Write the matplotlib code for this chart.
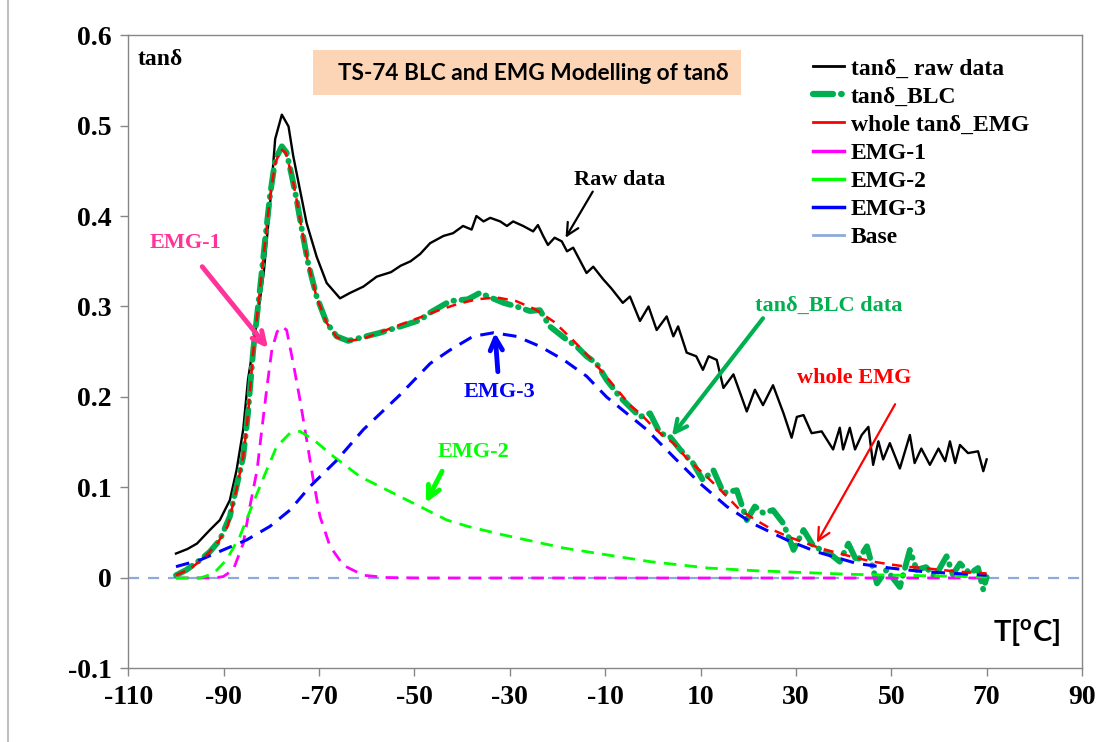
import matplotlib
matplotlib.use("Agg")
import matplotlib.pyplot as plt
from matplotlib.lines import Line2D
from matplotlib.patches import Rectangle

plt.rcParams["font.family"] = ["Liberation Serif", "DejaVu Serif"]
plt.rcParams["axes.unicode_minus"] = False
plt.rcParams["mathtext.fontset"] = "custom"
plt.rcParams["mathtext.rm"] = "Lato:bold"
plt.rcParams["mathtext.bf"] = "Lato:bold"

# raw tan(delta) curve
raw_T = [-100, -97.6, -95.6, -92.9, -90.8, -88.7, -87.3, -85.9, -84.9, -83.4,
         -81.6, -80.3, -79.2, -77.8, -76.4, -75.4, -74.0, -72.6, -70.5, -68.4,
         -65.6, -63.5, -60.7, -57.9, -54.9, -52.9, -50.8, -48.8, -46.7, -43.9,
         -41.9, -39.8, -38.0, -37.0, -35.5, -34.1, -32.0, -30.6, -29.3, -27.2,
         -25.1, -24.1, -23.0, -22.0, -20.6, -19.1, -18.0, -16.7, -14.6, -13.9,
         -12.5, -10.4, -8.7, -6.3, -4.8, -2.7, -0.9, 0.8, 2.9, 4.3,
         5.3, 7.1, 9.1, 10.5, 11.7, 13.4, 14.8, 16.9, 19.7, 21.4,
         23.1, 25.2, 27.4, 29.1, 30.2, 31.6, 33.3, 35.4, 37.8, 39.2,
         39.9, 41.3, 42.4, 43.8, 45.2, 46.2, 47.3, 48.3, 49.7, 51.8,
         53.9, 54.9, 56.3, 58.1, 59.9, 61.3, 62.3, 63.4, 64.4, 66.1,
         68.2, 69.3, 70.0]
raw_v = [0.027, 0.032, 0.038, 0.053, 0.064, 0.086, 0.119, 0.164, 0.219, 0.270,
         0.337, 0.411, 0.485, 0.512, 0.499, 0.466, 0.429, 0.392, 0.355, 0.326,
         0.309, 0.315, 0.322, 0.333, 0.338, 0.345, 0.350, 0.358, 0.370, 0.378,
         0.381, 0.389, 0.385, 0.400, 0.394, 0.398, 0.394, 0.389, 0.394, 0.389,
         0.383, 0.390, 0.378, 0.368, 0.376, 0.372, 0.361, 0.365, 0.344, 0.337,
         0.344, 0.330, 0.320, 0.304, 0.311, 0.284, 0.300, 0.274, 0.289, 0.267,
         0.278, 0.249, 0.245, 0.230, 0.245, 0.241, 0.210, 0.225, 0.184, 0.208,
         0.191, 0.213, 0.182, 0.155, 0.178, 0.180, 0.160, 0.162, 0.142, 0.166,
         0.142, 0.166, 0.142, 0.158, 0.167, 0.125, 0.151, 0.131, 0.149, 0.121,
         0.158, 0.127, 0.143, 0.125, 0.143, 0.129, 0.151, 0.127, 0.147, 0.138,
         0.140, 0.118, 0.131]

# baseline-corrected curve
blc_T = [-100, -97.8, -94.9, -92.9, -90.8, -88.7, -87.3, -85.9, -84.9, -83.8,
         -82.4, -81.3, -80.3, -79.2, -77.8, -76.8, -75.7, -74.7, -73.6, -72.3,
         -70.5, -68.4, -66.3, -63.9, -60.9, -57.2, -52.9, -48.8, -46.8, -42.5,
         -38.8, -37.7, -36.3, -34.5, -31.3, -28.6, -25.8, -23.7, -21.6, -18.0,
         -16.0, -13.9, -11.8, -9.7, -6.9, -2.7, -0.6, 1.5, 3.6, 5.7,
         8.4, 10.5, 12.7, 14.8, 17.6, 19.7, 21.4, 23.1, 25.2, 27.4,
         29.5, 31.6, 33.7, 37.1, 39.2, 41.0, 42.8, 44.9, 47.0, 49.0,
         51.8, 53.9, 55.3, 57.3, 59.1, 61.6, 62.9, 64.4, 66.5, 68.2,
         69.3, 70.0]
blc_v = [0.003, 0.009, 0.020, 0.029, 0.042, 0.068, 0.101, 0.134, 0.182, 0.252,
         0.319, 0.374, 0.422, 0.462, 0.477, 0.470, 0.444, 0.418, 0.385, 0.348,
         0.311, 0.282, 0.267, 0.262, 0.266, 0.271, 0.278, 0.285, 0.293, 0.306,
         0.308, 0.311, 0.315, 0.311, 0.304, 0.300, 0.295, 0.296, 0.278, 0.263,
         0.256, 0.245, 0.237, 0.219, 0.200, 0.178, 0.182, 0.160, 0.156, 0.142,
         0.127, 0.108, 0.119, 0.094, 0.097, 0.064, 0.079, 0.072, 0.075, 0.060,
         0.031, 0.053, 0.035, 0.027, 0.018, 0.038, 0.018, 0.035, -0.006, 0.009,
         -0.010, 0.031, 0.009, 0.012, 0.001, 0.024, 0.004, 0.016, 0.005, 0.011,
         -0.013, 0.001]

# sum of the three EMG peaks
emg_T = [-100, -97.1, -95.1, -93.1, -91.1, -89.1, -87.3, -85.9, -84.9, -83.8,
         -82.4, -81.3, -80.3, -79.2, -78.0, -77.0, -75.7, -74.7, -73.6, -72.3,
         -70.5, -68.4, -66.3, -63.9, -60.9, -56.9, -52.9, -48.8, -44.8, -40.8,
         -36.8, -32.7, -28.7, -24.7, -20.7, -16.6, -12.6, -8.6, -4.6, -2.7,
         -0.5, 1.5, 4.3, 7.5, 11.3, 14.6, 18.3, 21.6, 25.2, 28.7,
         32.3, 35.7, 39.2, 42.8, 46.2, 49.8, 53.2, 56.8, 60.2, 63.9,
         66.9, 70.0]
emg_v = [0.003, 0.010, 0.018, 0.028, 0.040, 0.058, 0.098, 0.134, 0.180, 0.250,
         0.318, 0.372, 0.420, 0.458, 0.474, 0.470, 0.445, 0.418, 0.385, 0.348,
         0.310, 0.282, 0.266, 0.262, 0.264, 0.272, 0.280, 0.288, 0.296, 0.303,
         0.308, 0.310, 0.306, 0.297, 0.283, 0.262, 0.240, 0.215, 0.190, 0.182,
         0.170, 0.160, 0.149, 0.130, 0.112, 0.095, 0.075, 0.064, 0.053, 0.045,
         0.038, 0.032, 0.027, 0.022, 0.018, 0.015, 0.0125, 0.011, 0.009, 0.007,
         0.006, 0.005]

# individual EMG peaks
emg1_T = [-100, -92.1, -90.1, -88.0, -85.9, -84.5, -83.0, -82.0, -80.9, -79.9,
          -78.8, -77.8, -76.8, -75.4, -74.0, -72.6, -71.2, -69.8, -67.7, -64.9,
          -60.7, -55.9, -48.8, 70.0]
emg1_v = [0.0, 0.0, 0.0015, 0.009, 0.038, 0.079, 0.119, 0.164, 0.212, 0.252,
          0.272, 0.278, 0.274, 0.237, 0.197, 0.153, 0.108, 0.068, 0.035, 0.014,
          0.003, 0.0005, 0.0, 0.0]

emg2_T = [-100, -94.9, -92.1, -89.4, -86.6, -83.8, -81.0, -78.9, -76.1, -74.0,
          -71.2, -66.9, -61.4, -57.2, -48.1, -43.2, -38.8, -31.7, -24.7, -18.6,
          -12.6, -6.6, -0.5, 6.5, 11.6, 21.6, 31.7, 41.7, 51.8, 61.9, 70.0]
emg2_v = [0.0, 0.0, 0.005, 0.020, 0.046, 0.083, 0.119, 0.145, 0.160, 0.162,
          0.153, 0.134, 0.112, 0.101, 0.077, 0.064, 0.057, 0.048, 0.040, 0.033,
          0.028, 0.023, 0.018, 0.014, 0.011, 0.008, 0.006, 0.004, 0.003, 0.002,
          0.001]

emg3_T = [-100, -94.9, -90.1, -85.2, -80.3, -76.1, -71.9, -66.3, -60.7, -53.1,
          -46.7, -42.5, -37.7, -33.4, -28.6, -23.7, -18.7, -13.9, -9.7, -1.3,
          4.3, 9.8, 15.5, 21.0, 28.1, 34.3, 42.8, 49.7, 56.7, 70.0]
emg3_v = [0.0125, 0.020, 0.031, 0.042, 0.057, 0.075, 0.101, 0.130, 0.164, 0.202,
          0.237, 0.252, 0.267, 0.271, 0.267, 0.256, 0.241, 0.223, 0.200, 0.164,
          0.134, 0.105, 0.079, 0.060, 0.042, 0.029, 0.016, 0.011, 0.007, 0.003]

x_ticks = list(range(-110, 91, 20))
y_ticks = [-0.1, 0, 0.1, 0.2, 0.3, 0.4, 0.5, 0.6]
y_labels = ["-0.1", "0", "0.1", "0.2", "0.3", "0.4", "0.5", "0.6"]

GREEN = "#00B050"
LIME = "#00FF00"
PINK = "#FF3399"
BASE = "#8EA9DB"
GRAY = "#868686"

fig = plt.figure(figsize=(11.05, 7.42), dpi=100)
ax = fig.add_axes([0.1161, 0.0991, 0.8631, 0.8537])

ax.axhline(0, color=BASE, lw=1.6, dashes=(5, 4), zorder=1)
ax.plot(raw_T, raw_v, color="black", lw=1.7, zorder=3)
ax.plot(blc_T, blc_v, color=GREEN, lw=4.2, dashes=(3.2, 1.3, 0.1, 1.3),
        dash_capstyle="round", solid_capstyle="round", zorder=4)
ax.plot(emg1_T, emg1_v, color="#FF00FF", lw=2.0, dashes=(4.5, 3), zorder=5)
ax.plot(emg2_T, emg2_v, color=LIME, lw=2.0, dashes=(4.5, 3), zorder=5)
ax.plot(emg3_T, emg3_v, color="#0000FF", lw=2.2, dashes=(4.5, 3), zorder=6)
ax.plot(emg_T, emg_v, color="#FF0000", lw=1.8, dashes=(4, 3), zorder=7)

ax.set_xlim(-110, 90)
ax.set_ylim(-0.1, 0.6)
ax.set_xticks(x_ticks)
ax.set_yticks(y_ticks)
ax.set_yticklabels(y_labels)
for s in ax.spines.values():
    s.set_color(GRAY)
    s.set_linewidth(1.0)
ax.tick_params(direction="out", length=6, width=1, color=GRAY,
               labelsize=20, pad=6)
for lab in ax.get_xticklabels() + ax.get_yticklabels():
    lab.set_fontweight("bold")

# title box
ax.add_patch(Rectangle((0.1937, 0.9053), 0.4487, 0.071, transform=ax.transAxes,
                       facecolor="#FBD5B5", edgecolor="none", zorder=2))
ax.text(0.4243, 0.940, "TS-74 BLC and EMG Modelling of tanδ", transform=ax.transAxes,
        ha="center", va="center", fontsize=16.3, fontweight="bold",
        family=["Lato", "DejaVu Sans"], zorder=8)

ax.text(0.010, 0.962, "tanδ", transform=ax.transAxes, ha="left", va="center",
        fontsize=17, fontweight="bold")
ax.text(0.942, 0.056, r"T[$^{\mathrm{o}}$C]", transform=ax.transAxes, ha="center",
        va="center", fontsize=21, fontweight="bold", family=["Lato", "DejaVu Sans"])

# labels with arrows
notes = [
    ("EMG-1", (-98.1, 0.370), (-94.5, 0.344), (-80.7, 0.254), PINK, 3.5),
    ("EMG-3", (-32.1, 0.206), (-32.5, 0.228), (-33.1, 0.271), "#0000FF", 3.5),
    ("EMG-2", (-37.7, 0.139), (-44.2, 0.118), (-47.6, 0.083), LIME, 3.5),
    ("Raw data", (-6.9, 0.440), (-12.6, 0.427), (-18.3, 0.376), "black", 1.6),
    ("tanδ_BLC data", (36.9, 0.301), (23.1, 0.287), (4.0, 0.157), GREEN, 3.0),
    ("whole EMG", (42.3, 0.221), (50.8, 0.192), (34.4, 0.039), "#FF0000", 1.6),
]
for text, pos, start, end, col, lw in notes:
    ax.text(pos[0], pos[1], text, color=col, fontsize=16, fontweight="bold",
            ha="center", va="center", zorder=9)
    ax.annotate("", xy=end, xytext=start,
                arrowprops=dict(arrowstyle="->", color=col, lw=lw,
                                mutation_scale=22, shrinkA=0, shrinkB=0),
                zorder=9)

handles = [
    Line2D([], [], color="black", lw=2.0),
    Line2D([], [], color=GREEN, lw=4.5, dashes=(3.2, 1.3, 0.1, 1.3),
           dash_capstyle="round"),
    Line2D([], [], color="#FF0000", lw=2.0),
    Line2D([], [], color="#FF00FF", lw=2.5),
    Line2D([], [], color=LIME, lw=2.5),
    Line2D([], [], color="#0000FF", lw=2.5),
    Line2D([], [], color=BASE, lw=2.0),
]
labels = ["tanδ_ raw data", "tanδ_BLC", "whole tanδ_EMG", "EMG-1", "EMG-2",
          "EMG-3", "Base"]
ax.legend(handles, labels, loc="upper left", bbox_to_anchor=(0.718, 0.964),
          frameon=False, prop={"weight": "bold", "size": 17},
          handlelength=1.3, handletextpad=0.3, labelspacing=0.28,
          borderpad=0, borderaxespad=0)

# outer chart border on the left
fig.add_artist(Line2D([0.0068, 0.0068], [0, 1], color="#BFBFBF", lw=1.5))

fig.savefig("out.png", dpi=100)
